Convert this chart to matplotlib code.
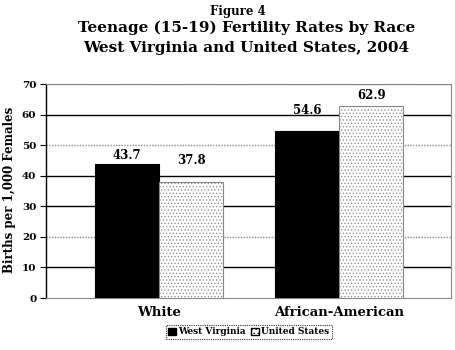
import matplotlib.pyplot as plt
import matplotlib as mpl

# data
races = ["White", "African-American"]
wv_rates = [43.7, 54.6]
us_rates = [37.8, 62.9]
series_names = ["West Virginia", "United States"]
y_ticks = [0, 10, 20, 30, 40, 50, 60, 70]

mpl.rcParams['font.family'] = 'DejaVu Serif'
mpl.rcParams['font.weight'] = 'bold'
mpl.rcParams['hatch.color'] = '#999999'
mpl.rcParams['hatch.linewidth'] = 0.5

fig = plt.figure(figsize=(4.56, 3.5), dpi=100)
# axes box in pixels: left 46, right 451, top 84, bottom 298
ax = fig.add_axes([46/456, 1 - 298/350, 405/456, 214/350])

x = list(range(len(races)))
w = 0.356
ax.bar([i - w/2 for i in x], wv_rates, w, color='black', edgecolor='black', lw=0.8, zorder=3)
ax.bar([i + w/2 for i in x], us_rates, w, color='white', edgecolor='#888888',
       hatch='.....', lw=0.8, zorder=3)

# value labels (offsets in points, as placed in the original)
wv_off = [2, 10]
us_off = [11, 3]
for i in x:
    ax.annotate(f"{wv_rates[i]:.1f}", (i - w/2, wv_rates[i]), xytext=(0, wv_off[i]),
                textcoords='offset points', ha='center', va='bottom', fontsize=8.5, zorder=0.5)
    ax.annotate(f"{us_rates[i]:.1f}", (i + w/2, us_rates[i]), xytext=(0, us_off[i]),
                textcoords='offset points', ha='center', va='bottom', fontsize=8.5, zorder=0.5)

ax.set_xlim(-0.628, 1.622)
ax.set_ylim(0, 70)
ax.set_yticks(y_ticks)
ax.set_yticklabels([str(t) for t in y_ticks], fontsize=7.5)
ax.set_xticks(x)
ax.set_xticklabels(races, fontsize=9.5)
ax.tick_params(axis='x', length=0, pad=6)
ax.tick_params(axis='y', length=4, width=0.8, direction='out', pad=3)

# gridlines: some solid, some look dotted grey in the original
for t in y_ticks[1:]:
    if t in (20, 50, 70):
        ax.axhline(t, color='#888888', lw=1.0, ls=(0, (1, 1)), zorder=1)
    else:
        ax.axhline(t, color='black', lw=1.0, zorder=1)

for s in ['top', 'right', 'bottom']:
    ax.spines[s].set_color('#888888')
    ax.spines[s].set_linestyle((0, (1, 1)))
ax.spines['left'].set_color('black')
ax.spines['left'].set_linewidth(1.0)

# y axis title placed by hand so it is not clipped at the left edge
fig.text(10/456, 1 - 190/350, "Births per 1,000 Females", rotation=90,
         ha='center', va='center', fontsize=8.5)

fig.text(0.522, 1 - 12/350, "Figure 4", ha='center', va='center', fontsize=8.5)
fig.text(0.54, 1 - 28/350, "Teenage (15-19) Fertility Rates by Race", ha='center', va='center', fontsize=11)
fig.text(0.54, 1 - 48/350, "West Virginia and United States, 2004", ha='center', va='center', fontsize=11)

handles = [mpl.patches.Patch(facecolor='black', edgecolor='black'),
           mpl.patches.Patch(facecolor='white', edgecolor='black', hatch='....')]
leg = fig.legend(handles, series_names, loc='center', bbox_to_anchor=(249/456, 1 - 332/350),
                 ncol=2, fontsize=6.5, handlelength=0.8, handleheight=0.8, handletextpad=0.3,
                 columnspacing=0.6, borderpad=0.3, fancybox=False, frameon=True)
leg.get_frame().set_edgecolor('black')
leg.get_frame().set_linestyle((0, (1, 1)))
leg.get_frame().set_linewidth(0.8)

fig.savefig("out.png", dpi=100)
